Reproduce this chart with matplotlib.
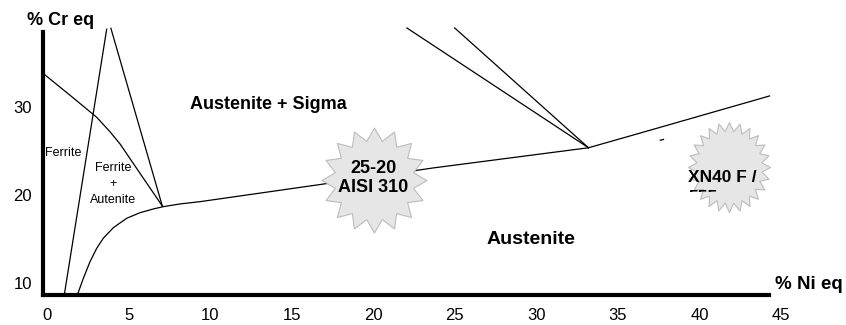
import numpy as np
import matplotlib
matplotlib.use("Agg")
import matplotlib.pyplot as plt
from matplotlib.path import Path
from matplotlib.transforms import Bbox, TransformedBbox

plt.rcParams['font.family'] = ['Liberation Sans', 'DejaVu Sans']

# boundary lines of the diagram (Ni eq, Cr eq)
ferrite_x = [-0.29, 1.4, 3.05, 3.86, 4.48, 5.7, 7.07]
ferrite_y = [33.95, 31.4, 28.87, 27.23, 25.83, 22.5, 18.77]
left_x = [1.06, 3.66]
left_y = [8.63, 38.9]
right_x = [3.92, 7.07]
right_y = [39.0, 18.77]
aust_x = [1.86, 2.23, 2.64, 3.05, 3.45, 4.07, 4.89, 5.7, 6.52, 7.13,
          8.15, 9.38, 16.55, 23.67, 33.2]
aust_y = [8.63, 10.53, 12.43, 13.95, 15.09, 16.3, 17.37, 18.0, 18.43, 18.69,
          19.0, 19.26, 21.16, 23.1, 25.4]
upper_x = [33.2, 36.36, 44.3]
upper_y = [25.4, 27.07, 31.3]
sigma1_x = [22.07, 33.2]
sigma1_y = [39.04, 25.4]
sigma2_x = [25.0, 33.2]
sigma2_y = [39.04, 25.4]
dash_x = [37.6, 37.8]
dash_y = [26.25, 26.35]

star_x = [20.05, 41.8]
star_y = [21.73, 23.2]

xticks = [0, 5, 10, 15, 20, 25, 30, 35, 40, 45]
yticks = [10, 20, 30]


def star_path(npts, inner, yscale=1.0):
    k = np.arange(2 * npts)
    ang = np.pi / 2 + k * np.pi / npts
    r = np.where(k % 2 == 0, 1.0, inner)
    verts = np.column_stack([r * np.cos(ang), r * np.sin(ang) * yscale])
    verts = np.vstack([verts, verts[:1]])
    return Path(verts, closed=True)


fig = plt.figure(figsize=(8.46, 3.25), dpi=100)
ax = fig.add_axes([42.9 / 846, 30 / 325, (789.1 - 42.9) / 846, (295 - 26.6) / 325])
ax.set_xlim(-0.25, 45.5)
ax.set_ylim(8.63, 39.2)

lw = 0.9
for xs, ys in [(ferrite_x, ferrite_y), (left_x, left_y), (right_x, right_y),
               (aust_x, aust_y), (upper_x, upper_y), (sigma1_x, sigma1_y),
               (sigma2_x, sigma2_y), (dash_x, dash_y)]:
    ax.plot(xs, ys, color='black', lw=lw, zorder=2, solid_joinstyle='round')

# the two "stars"
ax.scatter(star_x[:1], star_y[:1], marker=star_path(16, 0.76), s=5700,
           facecolor='#e6e6e6', edgecolor='#bcbcbc', linewidths=0.8, zorder=3)
ax.scatter(star_x[1:], star_y[1:], marker=star_path(24, 0.8, 1.1), s=4200,
           facecolor='#e6e6e6', edgecolor='#bcbcbc', linewidths=0.8, zorder=3)

ax.text(20.02, 21.96, "25-20\nAISI 310", fontsize=13, fontweight='bold',
        ha='center', va='center', linespacing=1.15, zorder=4)
ax.text(39.3, 21.5, "XN40 F /", fontsize=12.5, fontweight='bold',
        ha='left', va='baseline', zorder=4)
t = ax.text(39.3, 19.23, "555", fontsize=12.5, fontweight='bold',
            ha='left', va='baseline', zorder=4)
t.set_clip_box(TransformedBbox(Bbox([[35, 20.36], [48, 30]]), ax.transData))
t.set_clip_on(True)

ax.text(13.6, 30.3, "Austenite + Sigma", fontsize=13, fontweight='bold',
        ha='center', va='center')
ax.text(29.65, 15.0, "Austenite", fontsize=14, fontweight='bold',
        ha='center', va='center')
ax.text(1.01, 24.86, "Ferrite", fontsize=9, ha='center', va='center')
ax.text(4.05, 21.28, "Ferrite\n+\nAutenite", fontsize=9, ha='center',
        va='center', linespacing=1.45)

ax.text(0.86, 39.95, "% Cr eq", fontsize=13, fontweight='bold',
        ha='center', va='center')
ax.text(44.63, 9.77, "% Ni eq", fontsize=13.5, fontweight='bold',
        ha='left', va='center')

ax.set_xticks(xticks)
ax.set_yticks(yticks)
ax.tick_params(axis='x', length=0, pad=9.5, labelsize=12)
ax.tick_params(axis='y', length=0, pad=8, labelsize=12)

for side in ['top', 'right']:
    ax.spines[side].set_visible(False)
for side in ['left', 'bottom']:
    ax.spines[side].set_linewidth(3)
    ax.spines[side].set_capstyle('projecting')
ax.spines['bottom'].set_bounds(-0.25, 44.27)
ax.spines['left'].set_bounds(8.63, 38.59)

fig.savefig('out.png', dpi=100)
